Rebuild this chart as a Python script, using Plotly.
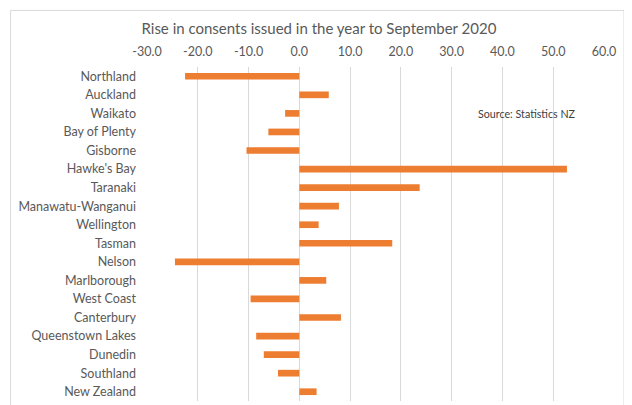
import plotly.graph_objects as go

regions = ["Northland", "Auckland", "Waikato", "Bay of Plenty", "Gisborne", "Hawke's Bay",
           "Taranaki", "Manawatu-Wanganui", "Wellington", "Tasman", "Nelson", "Marlborough",
           "West Coast", "Canterbury", "Queenstown Lakes", "Dunedin", "Southland", "New Zealand"]
rise = [-22.5, 5.8, -2.8, -6.1, -10.4, 52.7, 23.7, 7.8, 3.8, 18.3, -24.5, 5.3,
        -9.6, 8.2, -8.5, -7.0, -4.2, 3.4]
tick_vals = [-30, -20, -10, 0, 10, 20, 30, 40, 50, 60]
tick_text = ["-30.0", "-20.0", "-10.0", "0.0", "10.0", "20.0", "30.0", "40.0", "50.0", "60.0"]

font_family = "Lato, 'Open Sans', sans-serif"

fig = go.Figure(go.Bar(
    x=rise, y=regions, orientation="h",
    marker=dict(color="#ED7D31", line=dict(width=0)),
))

fig.update_layout(
    width=632, height=405,
    margin=dict(l=139, r=36, t=59, b=12, autoexpand=False),
    paper_bgcolor="white", plot_bgcolor="white",
    bargap=0.64,
    showlegend=False,
    font=dict(family=font_family, size=12.5, color="#595959"),
    title=dict(text="Rise in consents issued in the year to September 2020",
               x=0.492, xref="container", xanchor="center",
               y=0.950, yref="container", yanchor="middle",
               font=dict(size=15, color="#595959", family=font_family)),
    xaxis=dict(side="top", range=[-30, 60], tickvals=tick_vals, ticktext=tick_text,
               showgrid=True, gridcolor="#D9D9D9", gridwidth=1,
               zeroline=True, zerolinecolor="#D9D9D9", zerolinewidth=1,
               showline=False, ticks="", ticklabelstandoff=8, automargin=False,
               tickfont=dict(size=12.5, color="#595959")),
    yaxis=dict(categoryorder="array", categoryarray=regions, autorange="reversed",
               showgrid=False, showline=False, ticks="", ticklabelstandoff=10,
               automargin=False,
               tickfont=dict(size=12.5, color="#595959")),
    annotations=[dict(text="Source: Statistics NZ", xref="x", yref="y",
                      x=44.8, y="Waikato", xanchor="center", showarrow=False,
                      font=dict(size=10.7, color="#404040", family=font_family))],
    shapes=[dict(type="rect", xref="paper", yref="paper",
                 x0=-0.2985, x1=1.0438, y0=-0.08, y1=1.1695,
                 line=dict(color="#D9D9D9", width=1), layer="below")],
)

fig.write_html("out.html")
